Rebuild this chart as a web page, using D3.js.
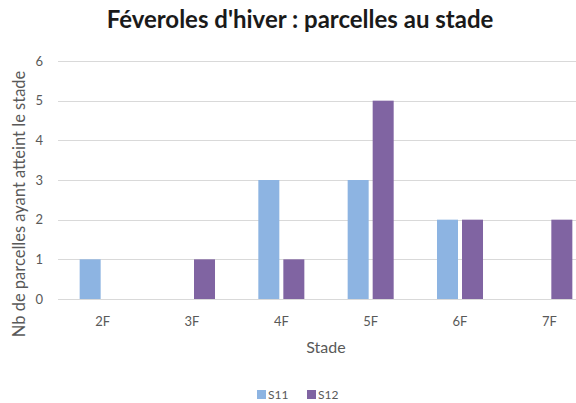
<!DOCTYPE html>
<meta charset="utf-8">
<head>
  <title>Féveroles d'hiver</title>
</head>
<style>
body {
  margin: 0;
  background: white;
  font-family: Lato, "Open Sans", sans-serif;
}
svg {
  display: block;
}
.grid line {
  stroke: #d9d9d9;
  stroke-width: 1px;
}
.tick text {
  fill: #595959;
}
</style>
<body>
<div id="chart"></div>
<script src="https://cdnjs.cloudflare.com/ajax/libs/d3/7.8.5/d3.min.js"></script>
<script>
// stages on the x axis
var stades = ["2F", "3F", "4F", "5F", "6F", "7F"]
// one series per week
var series = ["S11", "S12"]
var valuesS11 = [1, 0, 3, 3, 2, 0]
var valuesS12 = [0, 1, 1, 5, 2, 2]
var yTicks = [0, 1, 2, 3, 4, 5, 6]
var colours = {S11: "#8db4e2", S12: "#8064a2"}

var width = 576, height = 403

var svg = d3.select("#chart")
  .append("svg")
  .attr("width", width)
  .attr("height", height)

// the plot runs past the right edge of the picture, like the original
var x0 = d3.scaleBand()
  .domain(stades)
  .range([58, 594])

var x1 = d3.scaleBand()
  .domain(series)
  .range([0, x0.bandwidth()])
  .paddingInner(0.16)
  .paddingOuter(0.866)

var y = d3.scaleLinear()
  .domain([0, 6])
  .range([299, 61])

// gridlines
svg.append("g")
  .attr("class", "grid")
  .selectAll("line")
  .data(yTicks)
  .enter()
  .append("line")
  .attr("x1", 58)
  .attr("x2", 594)
  .attr("y1", function(d) { return Math.round(y(d)) + 0.5 })
  .attr("y2", function(d) { return Math.round(y(d)) + 0.5 })

// y axis labels
var yAxis = svg.append("g")
  .attr("transform", "translate(50,0)")
  .call(d3.axisLeft(y).tickValues(yTicks).tickFormat(d3.format("d")).tickSize(0).tickPadding(7))
yAxis.select(".domain").remove()
yAxis.selectAll("text")
  .attr("font-size", "13px")
  .attr("font-family", "Lato, sans-serif")

// x axis labels
var xAxis = svg.append("g")
  .attr("transform", "translate(0,299)")
  .call(d3.axisBottom(x0).tickSize(0).tickPadding(18))
xAxis.select(".domain").remove()
xAxis.selectAll("text")
  .attr("font-size", "13px")
  .attr("font-family", "Lato, sans-serif")

// build rows for the bars
var rows = stades.map(function(s, i) {
  return {stade: s, S11: valuesS11[i], S12: valuesS12[i]}
})

svg.append("g")
  .selectAll("g")
  .data(rows)
  .enter()
  .append("g")
  .attr("transform", function(d) { return "translate(" + x0(d.stade) + ",0)" })
  .selectAll("rect")
  .data(function(d) {
    return series.map(function(k) { return {key: k, value: d[k]} })
  })
  .enter()
  .filter(function(d) { return d.value > 0 })
  .append("rect")
  .attr("x", function(d) { return x1(d.key) })
  .attr("y", function(d) { return y(d.value) })
  .attr("width", x1.bandwidth())
  .attr("height", function(d) { return y(0) - y(d.value) })
  .attr("fill", function(d) { return colours[d.key] })

// title
svg.append("text")
  .attr("x", 300)
  .attr("y", 28)
  .attr("text-anchor", "middle")
  .attr("font-size", "24px")
  .attr("font-weight", "bold")
  .attr("fill", "#1a1a1a")
  .text("Féveroles d'hiver : parcelles au stade")

// axis titles
svg.append("text")
  .attr("x", 326)
  .attr("y", 353)
  .attr("text-anchor", "middle")
  .attr("font-size", "16px")
  .attr("fill", "#595959")
  .text("Stade")

svg.append("text")
  .attr("transform", "translate(25,204) rotate(-90)")
  .attr("text-anchor", "middle")
  .attr("font-size", "16.5px")
  .attr("fill", "#595959")
  .text("Nb de parcelles ayant atteint le stade")

// legend
var legend = svg.append("g")
  .selectAll("g")
  .data(series)
  .enter()
  .append("g")
  .attr("transform", function(d, i) { return "translate(" + (257 + i * 50) + ",390)" })
legend.append("rect")
  .attr("width", 9)
  .attr("height", 9)
  .attr("fill", function(d) { return colours[d] })
legend.append("text")
  .attr("x", 11)
  .attr("y", 9)
  .attr("font-size", "12px")
  .attr("fill", "#595959")
  .text(function(d) { return d })
</script>
</body>
</html>
